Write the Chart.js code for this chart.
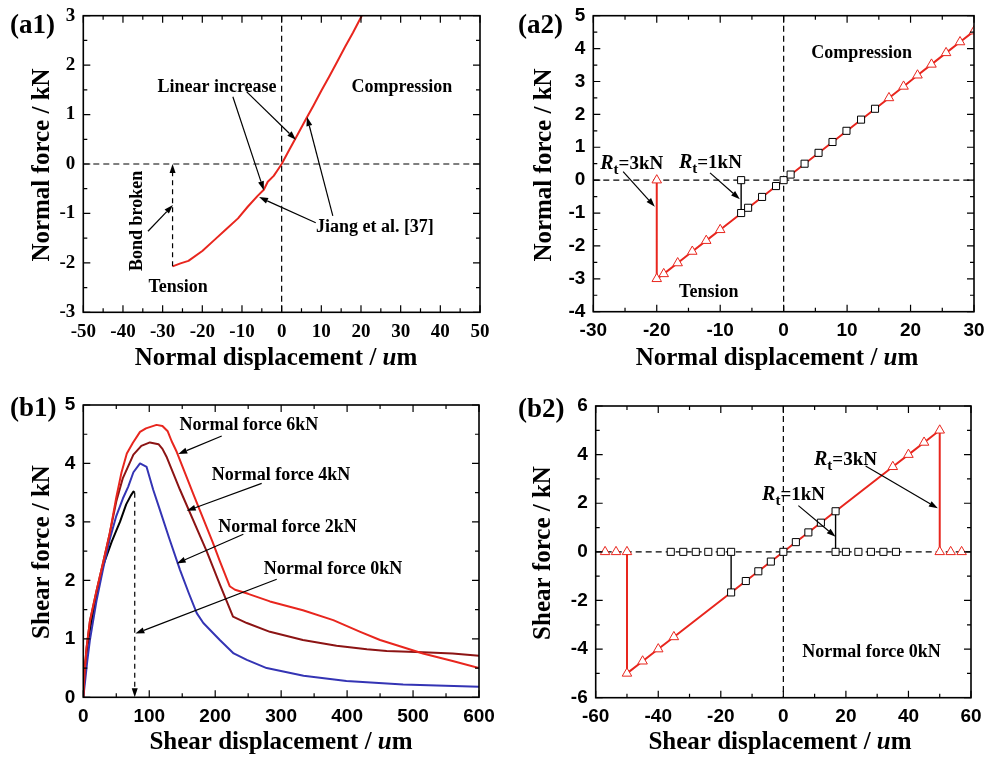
<!DOCTYPE html>
<html>
<head>
<meta charset="utf-8">
<script src="https://cdn.jsdelivr.net/npm/chart.js@4/dist/chart.umd.min.js"></script>
<style>
  body { margin: 0; background: #fff; }
  #wrap { position: relative; width: 985px; height: 760px; overflow: hidden; }
  canvas { position: absolute; }
  #a1 { left: 0; top: 0; }
  #a2 { left: 495px; top: 0; }
  #b1 { left: 0; top: 380px; }
  #b2 { left: 495px; top: 380px; }
</style>
</head>
<body>
<div id="wrap">
  <canvas id="a1" width="505" height="380"></canvas>
  <canvas id="a2" width="490" height="380"></canvas>
  <canvas id="b1" width="505" height="380"></canvas>
  <canvas id="b2" width="490" height="380"></canvas>
</div>
<script>
// (a1) normal force vs normal displacement, single bond
const a1Disp  = [-27.5, -25.5, -23.5, -20, -17, -14, -11, -8.5, -6, -4.5, -3.5, -2, -1, 0, 2, 4, 6, 8, 10, 12, 14, 16, 18, 20.2];
const a1Force = [-2.07, -2.01, -1.96, -1.76, -1.54, -1.32, -1.10, -0.86, -0.64, -0.52, -0.36, -0.24, -0.12, 0, 0.30, 0.59, 0.89, 1.18, 1.48, 1.77, 2.07, 2.37, 2.66, 3.0];

// (a2) Rt = 3kN (triangles) and Rt = 1kN (squares)
const a2Rt3Disp  = [-20, -20, -18.9, -16.7, -14.4, -12.2, -10, 16.6, 18.9, 21.1, 23.3, 25.6, 27.8, 30];
const a2Rt3Force = [0, -3, -2.85, -2.52, -2.17, -1.84, -1.51, 2.5, 2.85, 3.19, 3.52, 3.87, 4.2, 4.53];
const a2Rt1Disp  = [-6.7, -6.7, -5.6, -3.4, -1.2, 0, 1.1, 3.3, 5.5, 7.7, 9.9, 12.2, 14.4];
const a2Rt1Force = [0, -1.0, -0.84, -0.51, -0.18, 0, 0.17, 0.5, 0.83, 1.16, 1.5, 1.84, 2.17];

// (b1) shear force vs shear displacement for four normal forces
const b1Disp6  = [0, 2, 5, 10, 20, 30, 40, 50, 58, 66, 75, 86, 95, 111, 120, 128, 134, 141.6, 167, 196, 207, 222, 230, 250, 283, 333, 379, 420, 450, 515, 560, 600];
const b1Shear6 = [0, 0.45, 0.85, 1.3, 1.82, 2.3, 2.8, 3.42, 3.85, 4.17, 4.35, 4.54, 4.6, 4.66, 4.64, 4.55, 4.38, 4.2, 3.47, 2.66, 2.33, 1.9, 1.84, 1.77, 1.64, 1.49, 1.32, 1.12, 0.98, 0.75, 0.62, 0.5];
const b1Disp4  = [0, 2, 5, 10, 20, 30, 40, 50, 60, 68, 76, 88, 101, 114, 120, 126, 146.6, 187, 207, 227, 248, 283, 333, 384, 430, 460, 515, 560, 600];
const b1Shear4 = [0, 0.45, 0.85, 1.3, 1.82, 2.3, 2.8, 3.35, 3.75, 3.95, 4.15, 4.3, 4.36, 4.33, 4.25, 4.12, 3.55, 2.5, 1.93, 1.38, 1.27, 1.12, 0.98, 0.88, 0.82, 0.79, 0.77, 0.75, 0.71];
const b1Disp2  = [0, 3, 6, 10, 20, 30, 40, 50, 60, 68, 76, 86, 96, 106, 116, 130, 146.6, 160, 172, 182, 207, 228, 248, 278, 334, 399, 485, 600];
const b1Shear2 = [0, 0.3, 0.62, 0.98, 1.65, 2.2, 2.7, 3.1, 3.4, 3.6, 3.85, 4.0, 3.94, 3.55, 3.21, 2.73, 2.18, 1.78, 1.44, 1.27, 0.98, 0.75, 0.64, 0.5, 0.37, 0.28, 0.22, 0.18];
const b1Disp0  = [0, 3, 6, 10, 20, 30, 43, 50, 55.6, 65, 72, 76, 78];
const b1Shear0 = [0, 0.55, 0.85, 1.15, 1.75, 2.25, 2.66, 2.85, 3.0, 3.3, 3.45, 3.52, 3.5];

// (b2) Rt = 3kN (triangles) and Rt = 1kN (squares) under zero normal force
const b2Rt3Disp  = [-57, -53.5, -50, -50, -45, -40, -35, 35, 40, 45, 50, 50, 53.5, 57];
const b2Rt3Shear = [0, 0, 0, -5, -4.5, -4, -3.5, 3.5, 4, 4.5, 5, 0, 0, 0];
const b2Rt1Disp  = [-36, -32, -28, -24, -20, -16.7, -16.7, -12, -8, -4, 0, 4, 8, 12, 16.7, 16.7, 20, 24, 28, 32, 36];
const b2Rt1Shear = [0, 0, 0, 0, 0, 0, -1.67, -1.2, -0.8, -0.4, 0, 0.4, 0.8, 1.2, 1.67, 0, 0, 0, 0, 0, 0];

const RED = '#e8261e';
const DARKRED = '#8c1414';
const BLUE = '#3434b4';
const SERIF = '"Liberation Serif", "Times New Roman", serif';
const SANS = '"Liberation Sans", Arial, sans-serif';

const zip = (xs, ys) => xs.map((x, i) => ({ x, y: ys[i] }));

function arrow(ctx, x1, y1, x2, y2, dashed) {
  const a = Math.atan2(y2 - y1, x2 - x1);
  const hl = 9, hw = 3;
  const bx = x2 - hl * Math.cos(a), by = y2 - hl * Math.sin(a);
  ctx.save();
  ctx.strokeStyle = '#000';
  ctx.fillStyle = '#000';
  ctx.lineWidth = 1.2;
  if (dashed) ctx.setLineDash([5, 4]);
  ctx.beginPath();
  ctx.moveTo(x1, y1);
  ctx.lineTo(bx, by);
  ctx.stroke();
  ctx.setLineDash([]);
  ctx.beginPath();
  ctx.moveTo(x2, y2);
  ctx.lineTo(bx + hw * Math.sin(a), by - hw * Math.cos(a));
  ctx.lineTo(bx - hw * Math.sin(a), by + hw * Math.cos(a));
  ctx.closePath();
  ctx.fill();
  ctx.restore();
}

// draws runs of [text, font] one after another, centred on (cx, cy)
function runs(ctx, parts, cx, cy, rot) {
  ctx.save();
  ctx.translate(cx, cy);
  if (rot) ctx.rotate(-Math.PI / 2);
  ctx.textBaseline = 'middle';
  ctx.textAlign = 'left';
  let w = 0;
  parts.forEach(p => { ctx.font = p[1]; w += ctx.measureText(p[0]).width; });
  let x = -w / 2;
  parts.forEach(p => { ctx.font = p[1]; ctx.fillText(p[0], x, 0); x += ctx.measureText(p[0]).width; });
  ctx.restore();
}

function rtLabel(ctx, px, py, rest) {
  ctx.save();
  ctx.fillStyle = '#000';
  ctx.textAlign = 'left';
  ctx.textBaseline = 'alphabetic';
  const base = py + 6;
  ctx.font = 'italic bold 20px ' + SERIF;
  ctx.fillText('R', px, base);
  let w = ctx.measureText('R').width;
  ctx.font = 'bold 15px ' + SERIF;
  ctx.fillText('t', px + w, base + 5);
  w += ctx.measureText('t').width;
  ctx.font = 'bold 19px ' + SERIF;
  ctx.fillText(rest, px + w, base);
  ctx.restore();
}

const decor = {
  id: 'decor',
  beforeDatasetsDraw(chart, args, o) {
    if (!o.zero) return;
    const { ctx, chartArea: a, scales: { x, y } } = chart;
    const x0 = x.getPixelForValue(0), y0 = y.getPixelForValue(0);
    ctx.save();
    ctx.strokeStyle = '#000';
    ctx.lineWidth = 1.2;
    ctx.setLineDash([6, 4]);
    ctx.beginPath();
    ctx.moveTo(a.left, y0); ctx.lineTo(a.right, y0);
    ctx.moveTo(x0, a.top); ctx.lineTo(x0, a.bottom);
    ctx.stroke();
    ctx.restore();
  },
  afterDatasetsDraw(chart) {
    const { ctx, chartArea: a, scales: { x, y } } = chart;
    ctx.save();
    ctx.strokeStyle = '#000';
    ctx.lineWidth = 1.2;
    ctx.beginPath();
    const xv = x.ticks.map(t => t.value), yv = y.ticks.map(t => t.value);
    const tickX = (v, len) => {
      const p = x.getPixelForValue(v);
      ctx.moveTo(p, a.bottom); ctx.lineTo(p, a.bottom - len);
      ctx.moveTo(p, a.top); ctx.lineTo(p, a.top + len);
    };
    const tickY = (v, len) => {
      const p = y.getPixelForValue(v);
      ctx.moveTo(a.left, p); ctx.lineTo(a.left + len, p);
      ctx.moveTo(a.right, p); ctx.lineTo(a.right - len, p);
    };
    xv.forEach((v, i) => { tickX(v, 7); if (i) tickX((v + xv[i - 1]) / 2, 4); });
    yv.forEach((v, i) => { tickY(v, 7); if (i) tickY((v + yv[i - 1]) / 2, 4); });
    ctx.stroke();
    ctx.lineWidth = 1.6;
    ctx.strokeRect(a.left, a.top, a.right - a.left, a.bottom - a.top);
    ctx.restore();
  },
  afterDraw(chart, args, o) {
    const { ctx, scales: { x, y } } = chart;
    const px = v => x.getPixelForValue(v), py = v => y.getPixelForValue(v);
    ctx.save();
    ctx.fillStyle = '#000';
    const note = 'bold 18px ' + SERIF;
    (o.texts || []).forEach(t => runs(ctx, [[t.t, note]], px(t.x), py(t.y), t.rot));
    (o.rt || []).forEach(t => rtLabel(ctx, px(t.x), py(t.y), t.t));
    (o.arrows || []).forEach(r => arrow(ctx, px(r[0]), py(r[1]), px(r[2]), py(r[3]), r[4]));
    const tf = 'bold 25px ' + SERIF;
    runs(ctx, [[o.yTitle, tf]], o.yPos[0], o.yPos[1], true);
    runs(ctx, [[o.xTitle, tf], ['u', 'italic bold 25px ' + SERIF], ['m', tf]], o.xPos[0], o.xPos[1]);
    ctx.font = 'bold 27px ' + SERIF;
    ctx.textAlign = 'left';
    ctx.textBaseline = 'middle';
    ctx.fillText(o.tag, o.tagPos[0], o.tagPos[1]);
    ctx.restore();
  }
};

function axis(range, family, fit) {
  return {
    type: 'linear',
    min: range[0],
    max: range[1],
    grid: { display: false, drawTicks: false },
    border: { display: false },
    ticks: {
      stepSize: range[2],
      autoSkip: false,
      maxRotation: 0,
      padding: 8,
      color: '#000',
      font: { family, size: 19, weight: 'bold' }
    },
    afterFit(s) {
      fit(s);
      s.paddingLeft = s.paddingRight = s.paddingTop = s.paddingBottom = 0;
    }
  };
}

function makeChart(id, cfg) {
  const canvas = document.getElementById(id);
  const ar = cfg.area;
  return new Chart(canvas, {
    type: 'scatter',
    data: { datasets: cfg.datasets },
    options: {
      responsive: false,
      animation: false,
      events: [],
      layout: { padding: { left: 0, top: ar.top, right: canvas.width - ar.right, bottom: 0 } },
      scales: {
        x: axis(cfg.x, cfg.family, s => { s.height = canvas.height - ar.bottom; }),
        y: axis(cfg.y, cfg.family, s => { s.width = ar.left; })
      },
      plugins: { legend: { display: false }, tooltip: { enabled: false }, decor: cfg.decor }
    },
    plugins: [decor]
  });
}

const curve = (xs, ys, color, width) => ({
  data: zip(xs, ys), showLine: true, borderColor: color, borderWidth: width,
  pointRadius: 0, borderJoinStyle: 'round'
});

// red line with open triangles; flat runs on the zero line are left to the dashed axis
const triSeries = (xs, ys) => ({
  data: zip(xs, ys), showLine: true, order: 2,
  borderColor: RED, borderWidth: 2,
  pointStyle: 'triangle', pointRadius: 5.5, pointBorderWidth: 1,
  pointBorderColor: RED, pointBackgroundColor: '#fff',
  segment: { borderColor: c => (c.p0.parsed.y === 0 && c.p1.parsed.y === 0) ? 'rgba(0,0,0,0)' : RED }
});

// open squares; only the vertical drop is drawn as a black line
const sqSeries = (xs, ys) => ({
  data: zip(xs, ys), showLine: true, order: 1,
  borderColor: '#000', borderWidth: 1.4,
  pointStyle: 'rect', pointRadius: 5, pointBorderWidth: 1,
  pointBorderColor: '#000', pointBackgroundColor: '#fff',
  segment: { borderColor: c => c.p0.parsed.x === c.p1.parsed.x ? '#000' : 'rgba(0,0,0,0)' }
});

makeChart('a1', {
  area: { left: 83.3, right: 480, top: 15.7, bottom: 312.3 },
  family: SERIF,
  x: [-50, 50, 10],
  y: [-3, 3, 1],
  datasets: [curve(a1Disp, a1Force, RED, 2)],
  decor: {
    zero: true,
    tag: '(a1)', tagPos: [10, 26],
    yTitle: 'Normal force / kN', yPos: [43, 165],
    xTitle: 'Normal displacement / ', xPos: [276, 359],
    texts: [
      { t: 'Linear increase', x: -16.3, y: 1.56 },
      { t: 'Compression', x: 30.3, y: 1.56 },
      { t: 'Jiang et al. [37]', x: 23.5, y: -1.29 },
      { t: 'Tension', x: -26.1, y: -2.49 },
      { t: 'Bond broken', x: -36.4, y: -1.15, rot: true }
    ],
    arrows: [
      [-12.3, 1.36, -4.5, -0.53],
      [-8.8, 1.46, 3.6, 0.49],
      [8.6, -1.19, -5.7, -0.67],
      [12.9, -1.05, 6.4, 0.95],
      [-33.7, -1.36, -27.4, -0.83],
      [a1Disp[0], a1Force[0], a1Disp[0], 0, true]
    ]
  }
});

makeChart('a2', {
  area: { left: 98.3, right: 479, top: 15.7, bottom: 311.7 },
  family: SANS,
  x: [-30, 30, 10],
  y: [-4, 5, 1],
  datasets: [triSeries(a2Rt3Disp, a2Rt3Force), sqSeries(a2Rt1Disp, a2Rt1Force)],
  decor: {
    zero: true,
    tag: '(a2)', tagPos: [23, 26],
    yTitle: 'Normal force / kN', yPos: [50, 165],
    xTitle: 'Normal displacement / ', xPos: [282, 359],
    texts: [
      { t: 'Compression', x: 12.3, y: 3.86 },
      { t: 'Tension', x: -11.8, y: -3.4 }
    ],
    rt: [
      { t: '=3kN', x: -28.9, y: 0.52 },
      { t: '=1kN', x: -16.5, y: 0.55 }
    ],
    arrows: [
      [-25.3, 0.26, -20.3, -0.81],
      [-11.6, 0.22, -6.9, -0.58]
    ]
  }
});

const b1Last = b1Disp0.length - 1;
makeChart('b1', {
  area: { left: 83.3, right: 479, top: 25, bottom: 317.3 },
  family: SANS,
  x: [0, 600, 100],
  y: [0, 5, 1],
  datasets: [
    curve(b1Disp6, b1Shear6, RED, 2),
    curve(b1Disp4, b1Shear4, DARKRED, 2),
    curve(b1Disp2, b1Shear2, BLUE, 2),
    curve(b1Disp0, b1Shear0, '#000', 2)
  ],
  decor: {
    zero: false,
    tag: '(b1)', tagPos: [10, 29],
    yTitle: 'Shear force / kN', yPos: [43, 172],
    xTitle: 'Shear displacement / ', xPos: [281, 363],
    texts: [
      { t: 'Normal force 6kN', x: 251, y: 4.66 },
      { t: 'Normal force 4kN', x: 299.8, y: 3.79 },
      { t: 'Normal force 2kN', x: 309.6, y: 2.91 },
      { t: 'Normal force 0kN', x: 378.6, y: 2.19 }
    ],
    arrows: [
      [209.9, 4.47, 144, 4.16],
      [270.5, 3.66, 156.8, 3.19],
      [242.6, 2.79, 141.6, 2.29],
      [293.3, 2.02, 79, 1.09],
      [b1Disp0[b1Last], b1Shear0[b1Last], b1Disp0[b1Last], 0, true]
    ]
  }
});

makeChart('b2', {
  area: { left: 100.7, right: 476, top: 26, bottom: 317.7 },
  family: SANS,
  x: [-60, 60, 20],
  y: [-6, 6, 2],
  datasets: [triSeries(b2Rt3Disp, b2Rt3Shear), sqSeries(b2Rt1Disp, b2Rt1Shear)],
  decor: {
    zero: true,
    tag: '(b2)', tagPos: [23, 30],
    yTitle: 'Shear force / kN', yPos: [49, 173],
    xTitle: 'Shear displacement / ', xPos: [285, 363],
    texts: [
      { t: 'Normal force 0kN', x: 28.2, y: -4.12 }
    ],
    rt: [
      { t: '=3kN', x: 9.8, y: 3.81 },
      { t: '=1kN', x: -6.8, y: 2.38 }
    ],
    arrows: [
      [26.3, 3.53, 49.4, 1.79],
      [4.8, 1.9, 16.7, 0.62]
    ]
  }
});
</script>
</body>
</html>
